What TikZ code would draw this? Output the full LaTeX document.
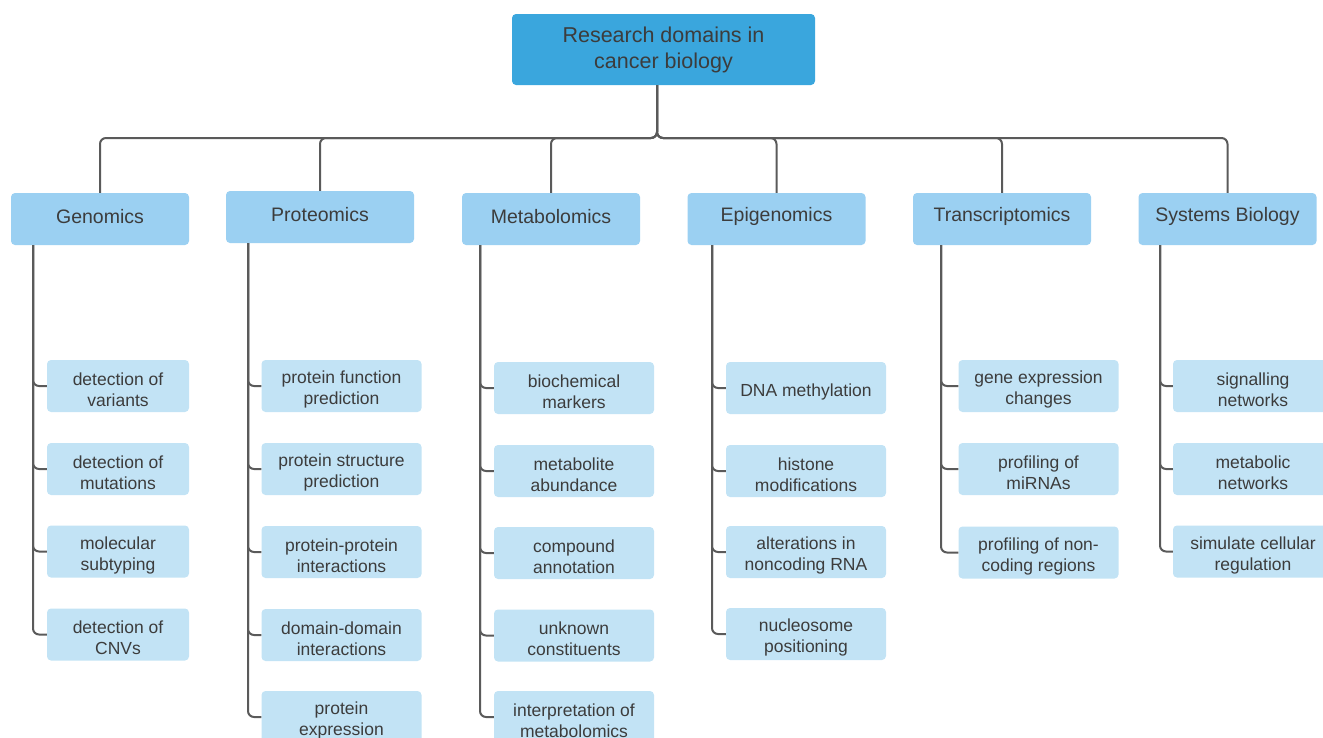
\documentclass[tikz,border=0pt]{standalone}
\usepackage{fontspec}
\setmainfont{Liberation Sans}
\definecolor{rootc}{RGB}{58,166,221}
\definecolor{lvlone}{RGB}{155,208,242}
\definecolor{lvltwo}{RGB}{194,227,245}
\definecolor{txtc}{RGB}{60,60,60}
\definecolor{linec}{RGB}{90,90,90}
\tikzset{
  rootbox/.style={fill=rootc, draw=none, rounded corners=4pt, minimum width=303pt, minimum height=71pt, align=center, text=txtc, font=\fontsize{21.5}{26}\selectfont, inner sep=0pt},
  catbox/.style={fill=lvlone, draw=none, rounded corners=4pt, minimum width=178pt, minimum height=52pt, inner sep=0pt,
    label={[cattxt]center:#1}},
  cattxt/.style={align=center, text=txtc, font=\fontsize{19.5}{23}\selectfont, inner sep=0pt, yshift=2.5pt},
  leafbox/.style={fill=lvltwo, draw=none, rounded corners=4pt, minimum width=160pt, minimum height=52pt, inner sep=0pt,
    label={[leaftxt]center:{#1}}},
  leaftxt/.style={align=center, text=txtc, font=\fontsize{17.5}{21}\selectfont, inner sep=0pt, yshift=-3.5pt},
  conn/.style={draw=linec, line width=2pt, rounded corners=6pt},
}
\begin{document}
\begin{tikzpicture}[x=1pt,y=-1pt]
\useasboundingbox (0,0) rectangle (1323,737);
\clip (0,0) rectangle (1323,737);
% root
\node[rootbox] (root) at (663.5,49.5) {Research domains in\\cancer biology};
\coordinate (rs) at (657,85);
% categories
\node[catbox=Genomics] (gen) at (100,219) {};
\node[catbox=Proteomics, minimum width=188pt] (pro) at (320,217) {};
\node[catbox=Metabolomics] (met) at (551,219) {};
\node[catbox=Epigenomics] (epi) at (776.5,219) {};
\node[catbox=Transcriptomics] (tra) at (1002,219) {};
\node[catbox={Systems Biology}] (sys) at (1227.5,219) {};
\foreach \c in {gen,pro,met,epi,tra,sys}{
  \draw[conn] (rs) -- ++(0,53) -| (\c.north);
}
% Genomics leaves
\node[leafbox={detection of\\variants}, minimum width=142pt] (g1) at (118,386) {};
\node[leafbox={detection of\\mutations}, minimum width=142pt] (g2) at (118,469) {};
\node[leafbox={molecular\\subtyping}, minimum width=142pt] (g3) at (118,551.5) {};
\node[leafbox={detection of\\CNVs}, minimum width=142pt] (g4) at (118,634.5) {};
\coordinate (gs) at (33,245);
\foreach \c in {g1,g2,g3,g4}{ \draw[conn] (gs) |- (\c.west); }
% Proteomics leaves
\node[leafbox={protein function\\prediction}] (p1) at (341.5,386) {};
\node[leafbox={protein structure\\prediction}] (p2) at (341.5,469) {};
\node[leafbox={protein-protein\\interactions}] (p3) at (341.5,552) {};
\node[leafbox={domain-domain\\interactions}] (p4) at (341.5,635) {};
\node[leafbox={protein\\expression}] (p5) at (341.5,717) {};
\coordinate (ps) at (248,243);
\foreach \c in {p1,p2,p3,p4,p5}{ \draw[conn] (ps) |- (\c.west); }
% Metabolomics leaves
\node[leafbox={biochemical\\markers}] (m1) at (574,388) {};
\node[leafbox={metabolite\\abundance}] (m2) at (574,471) {};
\node[leafbox={compound\\annotation}] (m3) at (574,553) {};
\node[leafbox={unknown\\constituents}] (m4) at (574,635.5) {};
\node[leafbox={interpretation of\\metabolomics}] (m5) at (574,717) {};
\coordinate (ms) at (480,245);
\foreach \c in {m1,m2,m3,m4,m5}{ \draw[conn] (ms) |- (\c.west); }
% Epigenomics leaves
\node[leafbox={DNA methylation}] (e1) at (806,388) {};
\node[leafbox={histone\\modifications}] (e2) at (806,471) {};
\node[leafbox={alterations in\\noncoding RNA}] (e3) at (806,552) {};
\node[leafbox={nucleosome\\positioning}] (e4) at (806,634) {};
\coordinate (es) at (712,245);
\foreach \c in {e1,e2,e3,e4}{ \draw[conn] (es) |- (\c.west); }
% Transcriptomics leaves
\node[leafbox={gene expression\\changes}] (t1) at (1038.5,386) {};
\node[leafbox={profiling of\\miRNAs}] (t2) at (1038.5,469) {};
\node[leafbox={profiling of non-\\coding regions}] (t3) at (1038.5,552.5) {};
\coordinate (ts) at (941,245);
\foreach \c in {t1,t2,t3}{ \draw[conn] (ts) |- (\c.west); }
% Systems Biology leaves
\node[leafbox={signalling\\networks}] (s1) at (1253,386) {};
\node[leafbox={metabolic\\networks}] (s2) at (1253,469) {};
\node[leafbox={simulate cellular\\regulation}] (s3) at (1253,551.5) {};
\coordinate (ss) at (1160,245);
\foreach \c in {s1,s2,s3}{ \draw[conn] (ss) |- (\c.west); }
\end{tikzpicture}
\end{document}
